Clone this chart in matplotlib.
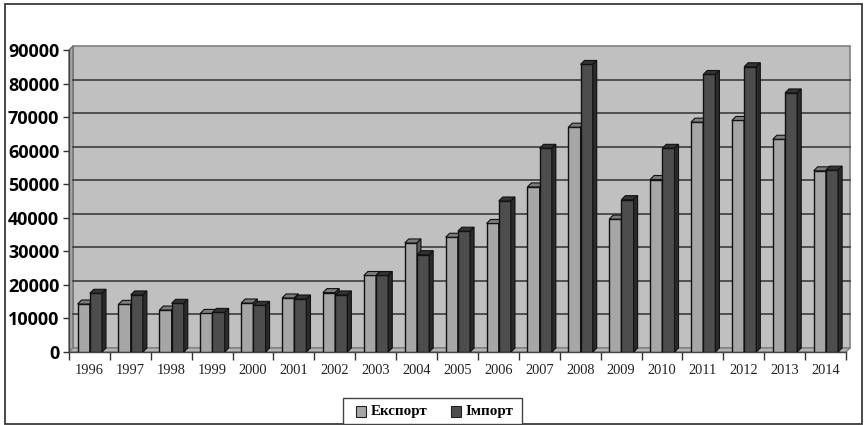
import matplotlib
matplotlib.use('Agg')
import matplotlib.pyplot as plt
from matplotlib.patches import Polygon, Rectangle

years = [1996, 1997, 1998, 1999, 2000, 2001, 2002, 2003, 2004, 2005,
         2006, 2007, 2008, 2009, 2010, 2011, 2012, 2013, 2014]
export_vals = [14300, 14200, 12500, 11500, 14600, 16100, 17700, 22800, 32500, 34200,
               38300, 49200, 67000, 39600, 51400, 68500, 69000, 63400, 54000]
import_vals = [17500, 17000, 14500, 11800, 13900, 15800, 17000, 22800, 29000, 36000,
               45000, 60700, 85700, 45400, 60700, 82700, 85000, 77200, 54200]
y_ticks = [0, 10000, 20000, 30000, 40000, 50000, 60000, 70000, 80000, 90000]

W, H = 864, 425
fig = plt.figure(figsize=(W / 100, H / 100), dpi=100)
# outer frame of the chart
fig.add_artist(Rectangle((5 / W, 1 / H), 857 / W, 420 / H, transform=fig.transFigure,
                         fill=False, ec='#3a3a3a', lw=1.3))

ax = fig.add_axes([69 / W, 1 - 352 / H, 777 / W, 302 / H])
ax.set_xlim(0, 19)
ax.set_ylim(0, 90000)
ax.patch.set_visible(False)

# size of one pixel in data units, for the fake 3d depth
px = 19 / 777
py = 90000 / 302
dx = 4 * px
dy = 4 * py

# back wall, side wall, floor
ax.add_patch(Polygon([(dx, dy), (19 + dx, dy), (19 + dx, 90000 + dy), (dx, 90000 + dy)],
                     fc='#c0c0c0', ec='#808080', lw=1.2, clip_on=False, zorder=1))
ax.add_patch(Polygon([(0, 0), (dx, dy), (dx, 90000 + dy), (0, 90000)],
                     fc='#a8a8a8', ec='#707070', lw=1.0, clip_on=False, zorder=1.1))
ax.add_patch(Polygon([(0, 0), (19, 0), (19 + dx, dy), (dx, dy)],
                     fc='#b4b4b4', ec='#808080', lw=1.0, clip_on=False, zorder=1.1))
for t in y_ticks[1:-1]:
    ax.plot([dx, 19 + dx], [t + dy, t + dy], color='#3c3c3c', lw=1.2, clip_on=False, zorder=1.2)

bar_w = 12.2 * px
start = 8.6 * px


def draw_bars(x, h, front, top, side, z):
    ax.bar(x, h, width=bar_w, align='edge', color=front, ec='#111111', lw=1.0, zorder=z)
    ax.add_patch(Polygon([(x, h), (x + dx, h + dy), (x + bar_w + dx, h + dy), (x + bar_w, h)],
                         fc=top, ec='#111111', lw=0.8, clip_on=False, zorder=z))
    ax.add_patch(Polygon([(x + bar_w, 0), (x + bar_w + dx, dy), (x + bar_w + dx, h + dy), (x + bar_w, h)],
                         fc=side, ec='#111111', lw=0.8, clip_on=False, zorder=z))


for i in range(len(years)):
    draw_bars(i + start, export_vals[i], '#a6a6a6', '#7c7c7c', '#5a5a5a', 3 + i * 0.01)
    draw_bars(i + start + bar_w, import_vals[i], '#4d4d4d', '#333333', '#2a2a2a', 3.005 + i * 0.01)

for s in ['top', 'right']:
    ax.spines[s].set_visible(False)
for s in ['left', 'bottom']:
    ax.spines[s].set_color('#444444')
    ax.spines[s].set_linewidth(1.0)
    ax.spines[s].set_zorder(2)

ax.set_yticks(y_ticks)
ax.set_yticklabels([str(t) for t in y_ticks], family='Open Sans', fontweight='bold', fontsize=13)
ax.tick_params(axis='y', length=4, width=1, color='#333333', pad=3)
ax.set_xticks(range(20))
ax.set_xticklabels([])
ax.set_xticks([i + 0.5 for i in range(19)], minor=True)
ax.set_xticklabels([str(y) for y in years], minor=True, family='Liberation Serif', fontsize=10.4)
ax.tick_params(axis='x', which='major', length=6, width=1, color='#333333')
ax.tick_params(axis='x', which='minor', length=0, pad=8.5, colors='#222222')

# legend box
fig.add_artist(Rectangle((342.5 / W, 1 / H), 179.5 / W, 26.5 / H, transform=fig.transFigure,
                         fc='white', ec='#444444', lw=1.0))
fig.add_artist(Rectangle((356 / W, 1 - 417 / H), 10 / W, 11 / H, transform=fig.transFigure,
                         fc='#a6a6a6', ec='#222222', lw=0.8))
fig.add_artist(Rectangle((450.5 / W, 1 - 417 / H), 10 / W, 11 / H, transform=fig.transFigure,
                         fc='#4d4d4d', ec='#222222', lw=0.8))
fig.text(371 / W, 1 - 411 / H, 'Експорт', family='Liberation Serif', fontweight='bold',
         fontsize=10.8, va='center', ha='left')
fig.text(465.5 / W, 1 - 411 / H, 'Імпорт', family='Liberation Serif', fontweight='bold',
         fontsize=10.8, va='center', ha='left')

fig.savefig('out.png', dpi=100)
